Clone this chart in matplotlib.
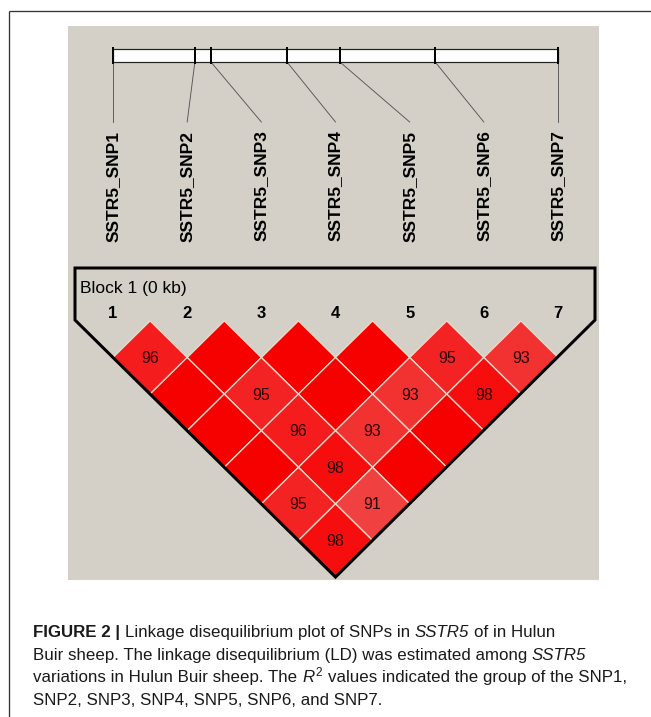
import numpy as np
import matplotlib
matplotlib.use("Agg")
import matplotlib.pyplot as plt
from matplotlib.patches import Rectangle, Polygon
from matplotlib.colors import LinearSegmentedColormap, Normalize

plt.rcParams['font.family'] = ['Liberation Sans', 'DejaVu Sans']
plt.rcParams['mathtext.fontset'] = 'custom'
plt.rcParams['mathtext.rm'] = 'Liberation Sans'
plt.rcParams['mathtext.it'] = 'Liberation Sans:italic'

# ——— data ———
snp_labels = ['SSTR5_SNP1', 'SSTR5_SNP2', 'SSTR5_SNP3', 'SSTR5_SNP4',
              'SSTR5_SNP5', 'SSTR5_SNP6', 'SSTR5_SNP7']
snp_numbers = ['1', '2', '3', '4', '5', '6', '7']
# relative physical position of each SNP on the gene bar (0..1)
snp_positions = [0.0, 0.184, 0.220, 0.391, 0.510, 0.724, 1.0]
# LD values, one row per SNP distance (row k -> pairs (i, i+k+1)); 100 = no number shown
ld_rows = [
    [96, 100, 100, 100, 95, 93],
    [100, 95, 100, 93, 98],
    [100, 96, 93, 100],
    [100, 98, 100],
    [95, 91],
    [98],
]
block_title = 'Block 1 (0 kb)'
# caption: (text, style) pieces per line
caption_lines = [
    [('FIGURE 2 |', 'bold'), (' Linkage disequilibrium plot of SNPs in ', 'normal'),
     ('SSTR5', 'italic'), (' of in Hulun', 'normal')],
    [('Buir sheep. The linkage disequilibrium (LD) was estimated among ', 'normal'),
     ('SSTR5', 'italic')],
    [('variations in Hulun Buir sheep. The ', 'normal'), (r'$\mathit{R}^{2}$', 'normal'),
     (' values indicated the group of the SNP1,', 'normal')],
    [('SNP2, SNP3, SNP4, SNP5, SNP6, and SNP7.', 'normal')],
]

# ——— layout (pixels) ———
W, H = 651, 717
PX = 0.72  # points per pixel at dpi 100
GRAY = '#d4d0c8'
x_left, x_right = 113, 558
snp_x = np.linspace(x_left, x_right, len(snp_labels))
hw = (snp_x[1] - snp_x[0]) / 2
hh = 36.6
y_top_cell = 357.5

fig = plt.figure(figsize=(W / 100, H / 100), dpi=100)
ax = fig.add_axes([0, 0, 1, 1])
ax.set_xlim(0, W); ax.set_ylim(H, 0); ax.axis('off')
renderer = fig.canvas.get_renderer()

# outer frame (top + left)
ax.plot([9, W], [10.5, 10.5], color='#333333', lw=1.3 * PX, solid_capstyle='butt')
ax.plot([9, 9], [10.5, H], color='#333333', lw=1.3 * PX, solid_capstyle='butt')

# gray panel
ax.add_patch(Rectangle((68, 26), 599 - 68, 580 - 26, facecolor=GRAY, edgecolor='none', zorder=0))

# gene bar
bar_y0, bar_y1 = 49, 62
ax.add_patch(Rectangle((x_left, bar_y0), x_right - x_left, bar_y1 - bar_y0,
                       facecolor='white', edgecolor='#222222', lw=1.2 * PX, zorder=2))
tick_x = [x_left + p * (x_right - x_left) for p in snp_positions]
for tx, lx in zip(tick_x, snp_x):
    ax.plot([tx, tx], [bar_y0 - 1, bar_y1 + 1], color='black', lw=2 * PX, zorder=3)
    ax.plot([tx, lx], [bar_y1, 122], color='#555555', lw=0.9 * PX, zorder=1)

# rotated SNP names
for lx, lab in zip(snp_x, snp_labels):
    ax.text(lx, 186, lab, rotation=90, ha='center', va='center',
            fontsize=12.5, fontweight='bold', color='black')

# LD diamonds
cmap = LinearSegmentedColormap.from_list('ld', ['#ec6a6a', '#f70000'])
norm = Normalize(vmin=85, vmax=100)
for k, row in enumerate(ld_rows):
    for i, val in enumerate(row):
        j = i + k + 1
        cx = (snp_x[i] + snp_x[j]) / 2
        cy = y_top_cell + k * hh
        pts = [(cx, cy - hh), (cx + hw, cy), (cx, cy + hh), (cx - hw, cy)]
        ax.add_patch(Polygon(pts, closed=True, facecolor=cmap(norm(val)),
                             edgecolor='#eadccb', lw=1.3 * PX, zorder=4))
        if val < 100:
            ax.text(cx, cy + 1, str(val), ha='center', va='center',
                    fontsize=11.5, color='#2b0000', zorder=5)

# block outline
n = len(snp_x)
slope = hh / hw
y_side = y_top_cell - (snp_x[0] - 75) * slope
bottom = ((snp_x[0] + snp_x[-1]) / 2, y_top_cell + (n - 2) * hh + hh)
outline = [(75, 268), (595, 268), (595, y_side), bottom, (75, y_side)]
ax.add_patch(Polygon(outline, closed=True, facecolor='none', edgecolor='black',
                     lw=3 * PX, joinstyle='miter', zorder=6))

ax.text(80, 288, block_title, ha='left', va='center', fontsize=12.5, color='black')
for lx, num in zip(snp_x, snp_numbers):
    ax.text(lx, 313, num, ha='center', va='center', fontsize=12,
            fontweight='bold', color='black')

# caption, drawn piece by piece
CAP_FS = 12.2


def text_w(s, **kw):
    t = ax.text(0, 0, s, fontsize=CAP_FS, **kw)
    w = t.get_window_extent(renderer).width
    t.remove()
    return w


space_w = text_w('x x') - text_w('xx')
for k, pieces in enumerate(caption_lines):
    x = 33
    y = 637 + k * 22.7
    for s, style in pieces:
        kw = {}
        if style == 'bold':
            kw['fontweight'] = 'bold'
        elif style == 'italic':
            kw['style'] = 'italic'
        core = s.strip(' ')
        x += (len(s) - len(s.lstrip(' '))) * space_w
        t = ax.text(x, y, core, ha='left', va='baseline', fontsize=CAP_FS,
                    color='#1a1a1a', **kw)
        x += t.get_window_extent(renderer).width
        x += (len(s) - len(s.rstrip(' '))) * space_w

fig.savefig('out.png', dpi=100)
